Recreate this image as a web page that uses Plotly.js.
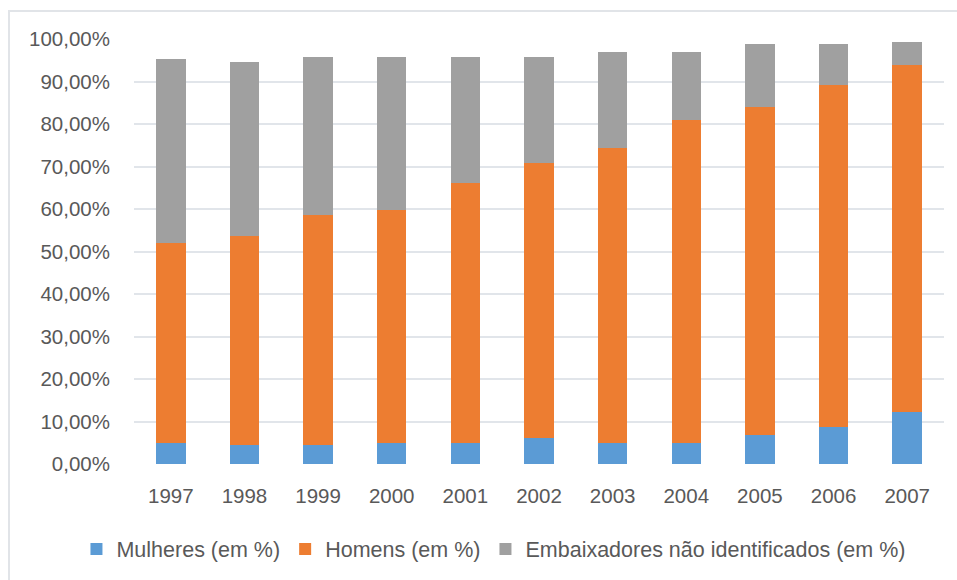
<!DOCTYPE html>
<html>
<head>
<meta charset="utf-8">
<script src="https://cdn.plot.ly/plotly-3.0.1.min.js"></script>
<style>
  html, body { margin: 0; padding: 0; background: #ffffff; }
  #wrap { position: relative; width: 957px; height: 580px; overflow: hidden; }
  #frame { position: absolute; left: 8px; top: 10px; width: 960px; height: 580px;
           border: 2px solid #E1E4E8; box-sizing: border-box; }
  #chart { position: absolute; left: 0; top: 0; width: 957px; height: 580px; }
</style>
</head>
<body>
<div id="wrap">
  <div id="frame"></div>
  <div id="chart"></div>
</div>
<script>
const years = ['1997','1998','1999','2000','2001','2002','2003','2004','2005','2006','2007'];
const mulheres = [5.0, 4.4, 4.4, 5.0, 5.0, 6.2, 4.9, 4.9, 6.8, 8.6, 12.2];
const homens = [46.9, 49.3, 54.2, 54.8, 61.1, 64.7, 69.5, 76.1, 77.2, 80.6, 81.8];
const naoIdentificados = [43.3, 40.8, 37.2, 36.0, 29.7, 24.9, 22.6, 16.0, 14.8, 9.6, 5.4];
const seriesNames = ['Mulheres (em %)', 'Homens (em %)', 'Embaixadores não identificados (em %)'];
const yTickVals = [0,10,20,30,40,50,60,70,80,90,100];
const yTickText = ['0,00%','10,00%','20,00%','30,00%','40,00%','50,00%','60,00%','70,00%','80,00%','90,00%','100,00%'];

const colors = ['#5B9BD5', '#ED7D31', '#A0A0A0'];
const font = 'Liberation Sans, Arial, sans-serif';

const traces = [mulheres, homens, naoIdentificados].map((vals, i) => ({
  type: 'bar',
  x: years,
  y: vals,
  name: seriesNames[i],
  marker: { color: colors[i], line: { width: 0 } },
  hoverinfo: 'x+y+name'
}));

const layout = {
  width: 957,
  height: 580,
  barmode: 'stack',
  bargap: 0.6,
  margin: { l: 10, r: 10, t: 39, b: 116 },
  paper_bgcolor: 'rgba(0,0,0,0)',
  plot_bgcolor: 'rgba(0,0,0,0)',
  font: { family: font, size: 20, color: '#595959' },
  xaxis: {
    type: 'category',
    domain: [0.1323, 0.9968],
    showgrid: false,
    zeroline: false,
    showline: false,
    ticks: '',
    ticklabelstandoff: 17,
    tickfont: { family: font, size: 20.5, color: '#595959' }
  },
  yaxis: {
    range: [0, 100],
    tickvals: yTickVals,
    ticktext: yTickText,
    showgrid: true,
    gridcolor: '#E1E5EA',
    gridwidth: 2,
    zeroline: false,
    showline: false,
    ticks: '',
    ticklabelstandoff: 23,
    tickfont: { family: font, size: 20.5, color: '#595959' }
  },
  showlegend: true,
  legend: {
    orientation: 'h',
    x: 0.5165,
    xanchor: 'center',
    y: -0.2,
    yanchor: 'middle',
    traceorder: 'normal',
    font: { family: font, size: 21.5, color: '#595959' },
    itemwidth: 30,
    bgcolor: 'rgba(0,0,0,0)'
  }
};

Plotly.newPlot('chart', traces, layout, { displayModeBar: false, staticPlot: true });
</script>
</body>
</html>
